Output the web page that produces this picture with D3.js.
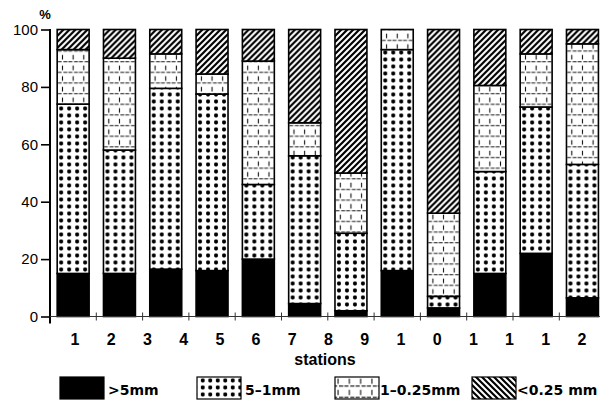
<!DOCTYPE html>
<html>
<head>
<meta charset="utf-8">
<script src="https://cdn.jsdelivr.net/npm/d3@7"></script>
<style>
  html, body { margin: 0; padding: 0; background: #fff; }
  svg { display: block; }
</style>
</head>
<body>
<svg id="chart" width="600" height="401"></svg>
<script>
// Grain-size composition (%) of the sediment at each station
const stations = [1, 2, 3, 4, 5, 6, 7, 8, 9, 10, 11, 12];
const coarse = [15, 15, 16.5, 16, 20, 4.5, 2, 16, 3, 15, 22, 6.5];      // >5 mm
const medium = [59, 43, 63, 61.5, 26, 51.5, 27, 77, 4, 35.5, 51, 46.5]; // 5-1 mm
const fine   = [19, 32, 12, 7, 43, 11.5, 21, 7, 29, 30, 18.5, 42];      // 1-0.25 mm
const finest = [7, 10, 8.5, 15.5, 11, 32.5, 50, 0, 64, 19.5, 8.5, 5];   // <0.25 mm

const classKeys = ["coarse", "medium", "fine", "finest"];
const classNames = [">5mm", "5\u20131mm", "1\u20130.25mm", "<0.25 mm"];
const xTickLabels = ["1", "2", "3", "4", "5", "6", "7", "8", "9", "1", "0", "1", "1", "1", "2"];
const yTicks = [0, 20, 40, 60, 80, 100];

const rows = stations.map((s, i) => ({
  station: s,
  coarse: coarse[i], medium: medium[i], fine: fine[i], finest: finest[i]
}));

const svg = d3.select("#chart");
const defs = svg.append("defs");

const x = d3.scaleBand()
  .domain(stations)
  .range([50, 605.6])
  .paddingInner(0.31)
  .paddingOuter(0.155);

const y = d3.scaleLinear().domain([0, 100]).range([316.5, 29.5]);

const bw = x.bandwidth();

// ---- fill patterns (one set per bar so the texture lines up with its edges)
function dotsPattern(id, ox, w) {
  const p = defs.append("pattern")
    .attr("id", id).attr("patternUnits", "userSpaceOnUse")
    .attr("x", ox).attr("y", 0).attr("width", w).attr("height", 7);
  p.append("rect").attr("width", w).attr("height", 7).attr("fill", "#fff");
  p.append("rect")
    .attr("x", w / 2 - 1.9).attr("y", 3.5 - 1.9)
    .attr("width", 3.8).attr("height", 3.8).attr("rx", 1.3)
    .attr("fill", "#000");
}
function dashPattern(id, ox, w) {
  const p = defs.append("pattern")
    .attr("id", id).attr("patternUnits", "userSpaceOnUse")
    .attr("x", ox).attr("y", 0).attr("width", w).attr("height", w);
  p.append("rect").attr("width", w).attr("height", w).attr("fill", "#fff");
  p.append("path")
    .attr("d", `M${w / 2},${w * 0.15}V${w * 0.6}M${w * 0.05},${w * 0.8}H${w * 0.42}M${w * 0.58},${w * 0.8}H${w * 0.95}`)
    .attr("stroke", "#111").attr("stroke-width", 1.1).attr("fill", "none");
}
function hatchPattern(id, ox, dir) {
  const s = 6;
  const p = defs.append("pattern")
    .attr("id", id).attr("patternUnits", "userSpaceOnUse")
    .attr("x", ox).attr("y", 0).attr("width", s).attr("height", s);
  p.append("rect").attr("width", s).attr("height", s).attr("fill", "#fff");
  const d = dir === "/"
    ? `M0,${s}L${s},0M${-s / 4},${s / 4}L${s / 4},${-s / 4}M${s * 0.75},${s * 1.25}L${s * 1.25},${s * 0.75}`
    : `M0,0L${s},${s}M${-s / 4},${s * 0.75}L${s / 4},${s * 1.25}M${s * 0.75},${-s / 4}L${s * 1.25},${s / 4}`;
  p.append("path").attr("d", d).attr("stroke", "#000").attr("stroke-width", 2.2).attr("fill", "none");
}

stations.forEach(s => {
  const ox = x(s);
  dotsPattern(`dots-${s}`, ox, bw / 4);
  dashPattern(`dash-${s}`, ox, bw / 3);
  hatchPattern(`hatch-${s}`, ox, "/");
});

function fillFor(key, s) {
  if (key === "coarse") return "#000";
  if (key === "medium") return `url(#dots-${s})`;
  if (key === "fine") return `url(#dash-${s})`;
  return `url(#hatch-${s})`;
}

// ---- stacked bars
const series = d3.stack().keys(classKeys)(rows);

svg.append("g").selectAll("g")
  .data(series)
  .join("g")
  .selectAll("rect")
  .data(d => d.map(v => ({ key: d.key, v })))
  .join("rect")
  .filter(d => d.v[1] - d.v[0] > 0)
  .attr("x", d => x(d.v.data.station))
  .attr("width", bw)
  .attr("y", d => y(d.v[1]))
  .attr("height", d => y(d.v[0]) - y(d.v[1]))
  .attr("fill", d => fillFor(d.key, d.v.data.station))
  .attr("stroke", "#000")
  .attr("stroke-width", 1.6);

// ---- y axis
const yAxis = d3.axisLeft(y).tickValues(yTicks).tickSize(9).tickSizeOuter(0);
const gy = svg.append("g").attr("transform", "translate(50,0)").call(yAxis);
gy.select(".domain").remove();
gy.selectAll(".tick line").attr("stroke", "#000").attr("stroke-width", 1.6);
gy.selectAll(".tick text")
  .attr("x", -12)
  .attr("font-family", "'Liberation Sans', Arial, sans-serif")
  .attr("font-size", 15)
  .attr("fill", "#000");
svg.append("line")
  .attr("x1", 50).attr("x2", 50)
  .attr("y1", y(100) - 0.5).attr("y2", y(0) + 7)
  .attr("stroke", "#000").attr("stroke-width", 2);

svg.append("text")
  .attr("x", 45).attr("y", 19)
  .attr("text-anchor", "middle")
  .attr("font-family", "'Liberation Sans', Arial, sans-serif")
  .attr("font-weight", "bold")
  .attr("font-size", 13)
  .text("%");

// ---- x axis baseline with separator ticks between bars
svg.append("line")
  .attr("x1", 50).attr("x2", 600)
  .attr("y1", y(0)).attr("y2", y(0))
  .attr("stroke", "#333").attr("stroke-width", 1);
svg.append("g").selectAll("line")
  .data(stations.slice(0, -1))
  .join("line")
  .attr("x1", s => x(s) + bw + x.step() * x.paddingInner() / 2)
  .attr("x2", s => x(s) + bw + x.step() * x.paddingInner() / 2)
  .attr("y1", y(0) - 4).attr("y2", y(0) + 4)
  .attr("stroke", "#333").attr("stroke-width", 1);

// station numbers, set as single characters along the axis
const xl = d3.scalePoint().domain(d3.range(xTickLabels.length)).range([75, 582]);
svg.append("g").selectAll("text")
  .data(xTickLabels)
  .join("text")
  .attr("x", (d, i) => xl(i))
  .attr("y", 345)
  .attr("text-anchor", "middle")
  .attr("font-family", "'Liberation Sans', Arial, sans-serif")
  .attr("font-weight", "bold")
  .attr("font-size", 16)
  .text(d => d);

svg.append("text")
  .attr("x", 325).attr("y", 365)
  .attr("text-anchor", "middle")
  .attr("font-family", "'Liberation Sans', Arial, sans-serif")
  .attr("font-weight", "bold")
  .attr("font-size", 16)
  .text("stations");

// ---- legend
const legendBoxes = [60, 197, 335, 472];
dotsPattern("dots-legend", legendBoxes[1], 45 / 6);
dashPattern("dash-legend", legendBoxes[2], 45 / 4);
hatchPattern("hatch-legend", legendBoxes[3], "\\");
const legendFills = ["#000", "url(#dots-legend)", "url(#dash-legend)", "url(#hatch-legend)"];

const lg = svg.append("g").selectAll("g")
  .data(classNames)
  .join("g")
  .attr("transform", (d, i) => `translate(${legendBoxes[i]},377)`);
lg.append("rect")
  .attr("width", 44).attr("height", 22)
  .attr("fill", (d, i) => legendFills[i])
  .attr("stroke", "#000").attr("stroke-width", 1.2);
lg.append("text")
  .attr("x", (d, i) => i >= 2 ? 45 : 48)
  .attr("y", 18)
  .attr("font-family", "'DejaVu Sans', sans-serif")
  .attr("font-weight", "bold")
  .attr("font-size", 14)
  .text(d => d);
</script>
</body>
</html>
